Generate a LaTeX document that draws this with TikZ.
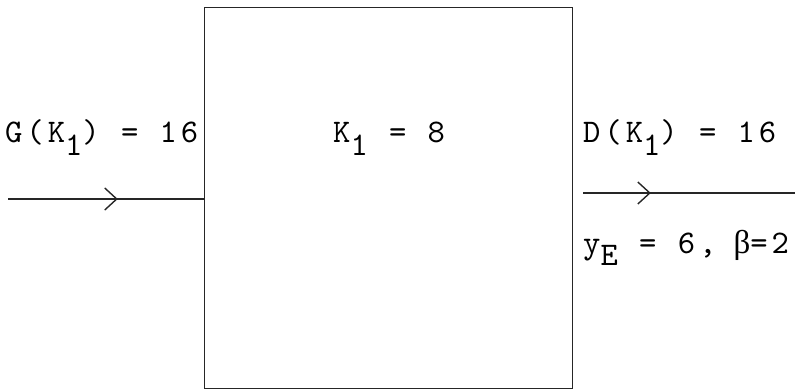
\documentclass[tikz,border=0pt]{standalone}
\usepackage{fontspec}
\newfontfamily\twfont{lmmono10-regular.otf}[LetterSpace=12]
\newfontfamily\greekfont{Liberation Serif}
\usetikzlibrary{arrows.meta,decorations.markings}
\newcommand\lowsub[1]{\raisebox{-13pt}{#1}}
\tikzset{
  txt/.style={anchor=base west, inner sep=0pt, font=\twfont\fontsize{33}{40}\selectfont},
  thinline/.style={line width=1.2pt, black!85},
  midarrow/.style={thinline, postaction={decorate}, decoration={markings,
     mark=at position #1 with {\arrow{Straight Barb[length=12pt,width=22pt,line width=1.4pt]}}}}
}
\begin{document}
\begin{tikzpicture}[x=1pt,y=-1pt]
\useasboundingbox (0,0) rectangle (795,390);
\node[draw, thinline, minimum width=368pt, minimum height=381pt, inner sep=0pt, anchor=north west] (box) at (204,7) {};
\node[txt] (g) at (5,143) {G(K\lowsub{1}) = 16};
\node[txt] (k) at (333,143) {K\lowsub{1} = 8};
\node[txt] (d) at (583,143) {D(K\lowsub{1}) = 16};
\node[txt] (y) at (583,253) {y\lowsub{E} = 6,\hspace{-4pt} {\greekfont β}=2};
\coordinate (inL) at (8,199);
\coordinate (outS) at (583,193);
\coordinate (outE) at (795,193);
\draw[midarrow=0.56] (inL) -- (inL -| box.west);
\draw[midarrow=0.32] (outS) -- (outE);
\end{tikzpicture}
\end{document}
